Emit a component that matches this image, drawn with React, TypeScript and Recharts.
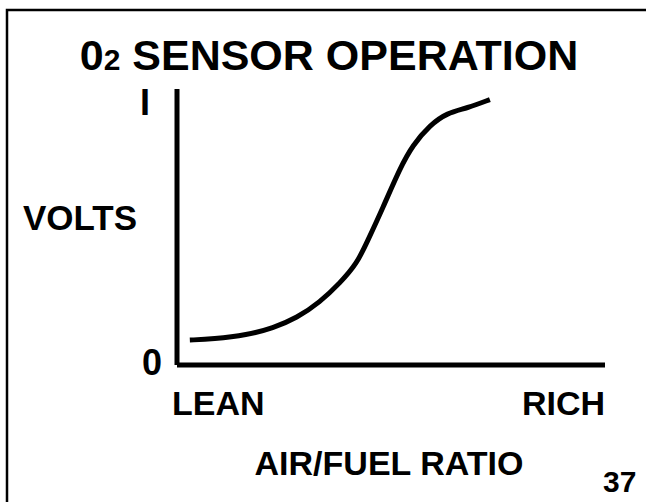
import { LineChart, Line, XAxis, YAxis, Label } from "recharts";

// air/fuel position (0 = lean, 100 = rich) and sensor output (0..1 V)
const AIR_FUEL = [3, 8.4, 16.4, 22.4, 28, 33.4, 38.1, 42.1, 44.4, 48.1, 52.1, 55.1, 59.1, 63.1, 67.8, 73.1];
const SENSOR_VOLTS = [0.094, 0.098, 0.113, 0.139, 0.177, 0.237, 0.309, 0.384, 0.463, 0.592, 0.742, 0.829, 0.904, 0.95, 0.968, 1.0];

const X_TICKS = [0, 100];
const X_TICK_LABELS = ["LEAN", "RICH"];
const Y_TICKS = [0, 1];
const Y_TICK_LABELS = ["0", "I"];

const FONT = "'Liberation Sans', Arial, Helvetica, sans-serif";

const data = AIR_FUEL.map((x, i) => ({ x, v: SENSOR_VOLTS[i] }));

function XTick({ x, y, payload }: any) {
  const i = X_TICKS.indexOf(payload.value);
  return (
    <text
      x={x}
      y={y}
      dx={i === 0 ? -5 : 0}
      dy={50}
      textAnchor={i === 0 ? "start" : "end"}
      fontFamily={FONT}
      fontWeight="bold"
      fontSize={34}
      fill="#000"
    >
      {X_TICK_LABELS[i]}
    </text>
  );
}

function YTick({ x, y, payload }: any) {
  const i = Y_TICKS.indexOf(payload.value);
  return (
    <text
      x={x}
      y={y}
      dx={i === 0 ? -15 : -27}
      dy={i === 0 ? 10 : 15}
      textAnchor="end"
      fontFamily={FONT}
      fontWeight="bold"
      fontSize={36}
      fill="#000"
    >
      {Y_TICK_LABELS[i]}
    </text>
  );
}

export default function App() {
  return (
    <div style={{ position: "absolute", left: 0, top: 0, width: 646, height: 502, background: "#fff", overflow: "hidden" }}>
      <LineChart width={646} height={502} data={data} margin={{ top: 89, right: 41, bottom: 0, left: 0 }}>
        <XAxis
          type="number"
          dataKey="x"
          domain={[0, 100]}
          ticks={X_TICKS}
          height={137}
          tickSize={0}
          tickMargin={0}
          tickLine={false}
          tick={<XTick />}
          axisLine={{ stroke: "#000", strokeWidth: 5 }}
        >
          <Label
            content={({ viewBox }: any) => (
              <text
                x={viewBox.x + 212}
                y={viewBox.y + 110}
                textAnchor="middle"
                fontFamily={FONT}
                fontWeight="bold"
                fontSize={34}
                fill="#000"
              >
                AIR/FUEL RATIO
              </text>
            )}
          />
        </XAxis>
        <YAxis
          type="number"
          domain={[0, 1.04]}
          ticks={Y_TICKS}
          width={177}
          tickSize={0}
          tickMargin={0}
          tickLine={false}
          tick={<YTick />}
          axisLine={{ stroke: "#000", strokeWidth: 5 }}
        >
          <Label
            content={({ viewBox }: any) => (
              <text
                x={23}
                y={viewBox.y + 141}
                fontFamily={FONT}
                fontWeight="bold"
                fontSize={35}
                fill="#000"
              >
                VOLTS
              </text>
            )}
          />
        </YAxis>
        <Line
          type="basis"
          dataKey="v"
          stroke="#000"
          strokeWidth={5}
          dot={false}
          activeDot={false}
          isAnimationActive={false}
        />
      </LineChart>
      <svg width={646} height={502} style={{ position: "absolute", left: 0, top: 0, pointerEvents: "none" }}>
        <rect x={7} y={10} width={700} height={600} fill="none" stroke="#000" strokeWidth={2.5} />
        <text x={329} y={70} textAnchor="middle" fontFamily={FONT} fontWeight="bold" fontSize={43} fill="#000">
          0<tspan fontSize={30}>2</tspan> SENSOR OPERATION
        </text>
        <text x={603} y={492} fontFamily={FONT} fontWeight="bold" fontSize={30} fill="#000">
          37
        </text>
      </svg>
    </div>
  );
}
